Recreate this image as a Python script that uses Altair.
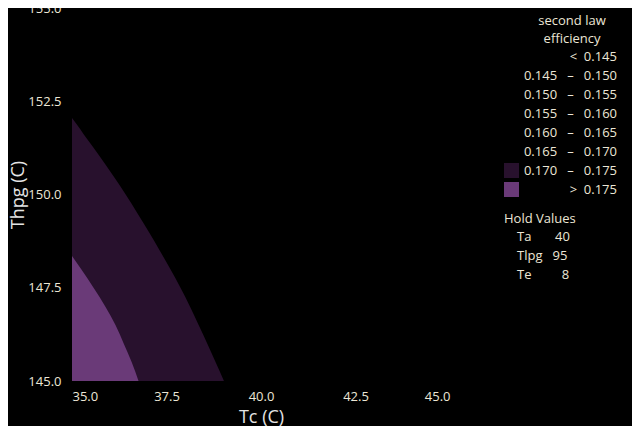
import altair as alt
import pandas as pd

NB = "\u00a0"

def rng(a, b):
    return a + NB * 3 + "–" + NB * 3 + b

legend_title = ["second law", "efficiency"]

# efficiency bands (legend)
band_labels = [
    "<" + NB * 2 + "0.145",
    rng("0.145", "0.150"),
    rng("0.150", "0.155"),
    rng("0.155", "0.160"),
    rng("0.160", "0.165"),
    rng("0.165", "0.170"),
    rng("0.170", "0.175"),
    ">" + NB * 2 + "0.175",
]
band_colors = ["#000000", "#000000", "#000000", "#000000", "#000000", "#000000",
               "#28112d", "#6a3a78"]

# contour boundary of the 0.170-0.175 band (Thpg -> Tc)
dark_thpg = [145.0, 145.5, 146.0, 146.5, 147.0, 147.5, 148.0, 148.5, 149.0,
             149.5, 150.0, 150.5, 151.0, 151.5, 152.0, 152.05]
dark_tc = [39.02, 38.80, 38.58, 38.35, 38.12, 37.87, 37.60, 37.32, 37.03,
           36.73, 36.42, 36.09, 35.75, 35.39, 35.04, 35.0]

# contour boundary of the > 0.175 band
light_thpg = [145.0, 145.5, 146.0, 146.5, 147.0, 147.5, 148.0, 148.35]
light_tc = [36.76, 36.58, 36.37, 36.15, 35.88, 35.57, 35.24, 35.0]

# hold values
hold_names = ["Ta", "Tlpg", "Te"]
hold_vals = [40, 95, 8]
hold_pads = [7, 3, 9]

x_ticks = [35.0, 37.5, 40.0, 42.5, 45.0]
y_ticks = [145.0, 147.5, 150.0, 152.5, 155.0]

regions = pd.concat([
    pd.DataFrame({"Thpg": dark_thpg, "Tc": dark_tc, "band": band_labels[6]}),
    pd.DataFrame({"Thpg": light_thpg, "Tc": light_tc, "band": band_labels[7]}),
])
hold_labels = [n + NB * p + str(v) for n, v, p in zip(hold_names, hold_vals, hold_pads)]
hold_df = pd.DataFrame({"hold": hold_labels})

FONT = "Open Sans"
TXT = "#ece6d6"

areas = alt.Chart(regions).mark_area(orient="horizontal", clip=True, interpolate="monotone").encode(
    y=alt.Y("Thpg:Q", title="Thpg (C)",
            scale=alt.Scale(domain=[145, 155], nice=False, zero=False),
            axis=alt.Axis(values=y_ticks, format=".1f", labelPadding=11, titlePadding=0)),
    x=alt.X("Tc:Q", title="Tc (C)", stack=None,
            scale=alt.Scale(domain=[35, 45], nice=False, zero=False),
            axis=alt.Axis(values=x_ticks, format=".1f", labelPadding=9, titlePadding=5)),
    x2=alt.datum(35),
    color=alt.Color("band:N",
                    scale=alt.Scale(domain=band_labels, range=band_colors),
                    legend=alt.Legend(orient="none", legendX=432, legendY=41,
                                      title=None,
                                      labelAlign="right", labelOffset=98, labelLimit=300,
                                      symbolType="square", symbolSize=225,
                                      symbolStrokeWidth=0, rowPadding=4)),
)

hold = alt.Chart(hold_df).mark_point(opacity=0, size=0).encode(
    shape=alt.Shape("hold:N", scale=alt.Scale(domain=hold_labels),
                    legend=alt.Legend(orient="none", legendX=432, legendY=205,
                                      title="Hold Values", symbolOpacity=0,
                                      symbolSize=1, labelOffset=0, rowPadding=5,
                                      titlePadding=4, labelLimit=300)),
)

chart = alt.layer(areas, hold).properties(
    width=378, height=373,
    autosize=alt.AutoSizeParams(type="none"),
    padding={"left": 64, "top": 0, "right": 182, "bottom": 45},
    title=alt.TitleParams(legend_title, anchor="start", align="center", frame="group",
                          baseline="top", orient="top", offset=-44, dx=500,
                          font=FONT, fontSize=13, fontWeight="normal",
                          color=TXT, lineHeight=18),
).configure(
    background="black",
).configure_view(
    stroke=None,
).configure_axis(
    domain=False, ticks=False, grid=False,
    labelFont=FONT, labelFontSize=13, labelColor=TXT,
    titleFont=FONT, titleFontSize=18, titleFontWeight="normal", titleColor="#e4e4e4",
).configure_legend(
    labelFont=FONT, labelFontSize=13, labelColor=TXT,
    titleFont=FONT, titleFontSize=13, titleFontWeight="normal", titleColor=TXT,
)

chart.save("out.html", embed_options={"renderer": "svg", "actions": False})
